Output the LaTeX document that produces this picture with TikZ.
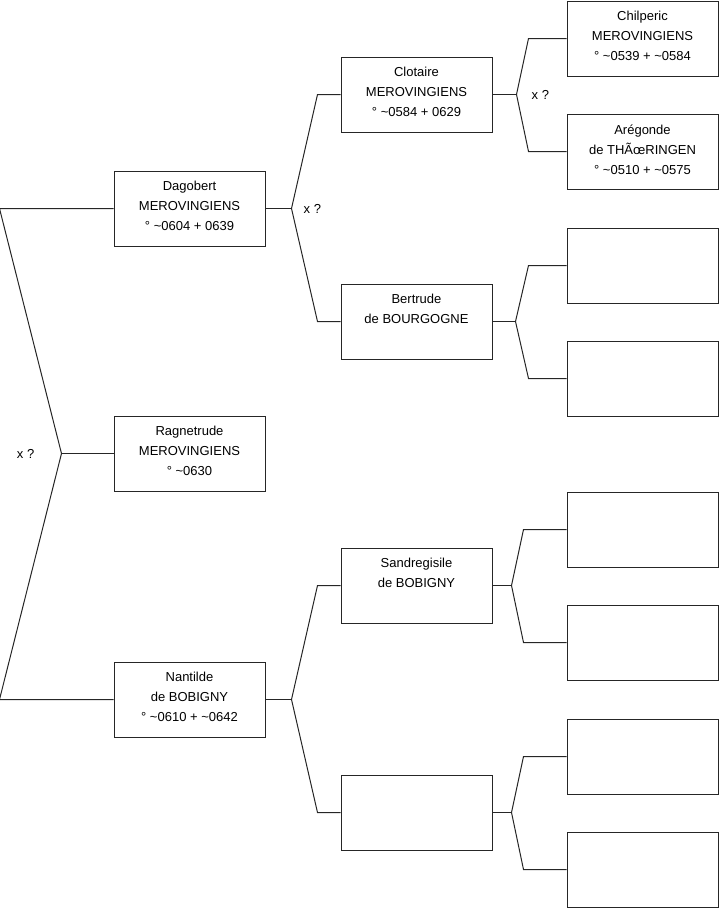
\documentclass[tikz,border=0pt]{standalone}
\usepackage{fontspec}
\setmainfont{Liberation Sans}
\usetikzlibrary{positioning}
\newcommand{\abt}{\textasciitilde}
\tikzset{
    person/.style={
        draw=black!85,
        line width=1pt,
        fill=white,
        minimum width=151pt,
        minimum height=75pt,
        inner sep=0pt,
        font=\fontsize{13}{20}\selectfont,
        execute at begin node={\begin{minipage}[c][75pt][t]{151pt}\centering\vspace*{10.5pt}},
        execute at end node={\end{minipage}}
    },
    link/.style={
        draw=black!85,
        line width=1pt
    },
    couple/.style={
        font=\fontsize{13}{20}\selectfont,
        inner sep=0pt
    }
}

\begin{document}
\begin{tikzpicture}[x=1pt, y=-1pt]
        \useasboundingbox (0,0) rectangle (719,908);

        % Generation 1
        \node[person] (dagobert) at (189.5,208.5) {Dagobert\\MEROVINGIENS\\° \abt0604 + 0639};
        \node[person] (ragnetrude) at (189.5,453.5) {Ragnetrude\\MEROVINGIENS\\° \abt0630};
        \node[person] (nantilde) at (189.5,699.5) {Nantilde\\de BOBIGNY\\° \abt0610 + \abt0642};

        % Generation 2
        \node[person] (clotaire) at (416.5,94.5) {Clotaire\\MEROVINGIENS\\° \abt0584 + 0629};
        \node[person] (bertrude) at (416.5,321.5) {Bertrude\\de BOURGOGNE};
        \node[person] (sandregisile) at (416.5,585.5) {Sandregisile\\de BOBIGNY};
        \node[person] (unknownA) at (416.5,812.5) {};

        % Generation 3
        \node[person] (chilperic) at (642.5,38.5) {Chilperic\\MEROVINGIENS\\° \abt0539 + \abt0584};
        \node[person] (aregonde) at (642.5,151.5) {Arégonde\\de THÃœRINGEN\\° \abt0510 + \abt0575};
        \node[person] (gpA) at (642.5,265.5) {};
        \node[person] (gpB) at (642.5,378.5) {};
        \node[person] (gpC) at (642.5,529.5) {};
        \node[person] (gpD) at (642.5,642.5) {};
        \node[person] (gpE) at (642.5,756.5) {};
        \node[person] (gpF) at (642.5,869.5) {};

        % Root fork
        \coordinate (f0) at ([xshift=-52pt]ragnetrude.west);
        \draw[link] (dagobert.west) -- ++(-114,0) -- (f0) -- ([xshift=-114pt]nantilde.west) -- (nantilde.west);
        \draw[link] (f0) -- (ragnetrude.west);
        \node[couple, left=27pt of f0] (x0) {x ?};

        % Dagobert parents
        \draw[link] (dagobert.east) -- ++(26,0) coordinate (f1);
        \draw[link] (clotaire.west) -- ++(-23,0) -- (f1) -- ([xshift=-23pt]bertrude.west) -- (bertrude.west);
        \node[couple, right=12pt of f1] (x1) {x ?};

        % Clotaire parents
        \draw[link] (clotaire.east) -- ++(24,0) coordinate (f2);
        \draw[link] (chilperic.west) -- ++(-38,0) -- (f2) -- ([xshift=-38pt]aregonde.west) -- (aregonde.west);
        \node[couple, right=15pt of f2] (x2) {x ?};

        % Bertrude parents
        \draw[link] (bertrude.east) -- ++(23,0) coordinate (f3);
        \draw[link] (gpA.west) -- ++(-38,0) -- (f3) -- ([xshift=-38pt]gpB.west) -- (gpB.west);

        % Nantilde parents
        \draw[link] (nantilde.east) -- ++(26,0) coordinate (f4);
        \draw[link] (sandregisile.west) -- ++(-23,0) -- (f4) -- ([xshift=-23pt]unknownA.west) -- (unknownA.west);

        % Sandregisile parents
        \draw[link] (sandregisile.east) -- ++(19,0) coordinate (f5);
        \draw[link] (gpC.west) -- ++(-43,0) -- (f5) -- ([xshift=-43pt]gpD.west) -- (gpD.west);

        % Unknown parents
        \draw[link] (unknownA.east) -- ++(19,0) coordinate (f6);
        \draw[link] (gpE.west) -- ++(-43,0) -- (f6) -- ([xshift=-43pt]gpF.west) -- (gpF.west);
    \end{tikzpicture}
\end{document}
